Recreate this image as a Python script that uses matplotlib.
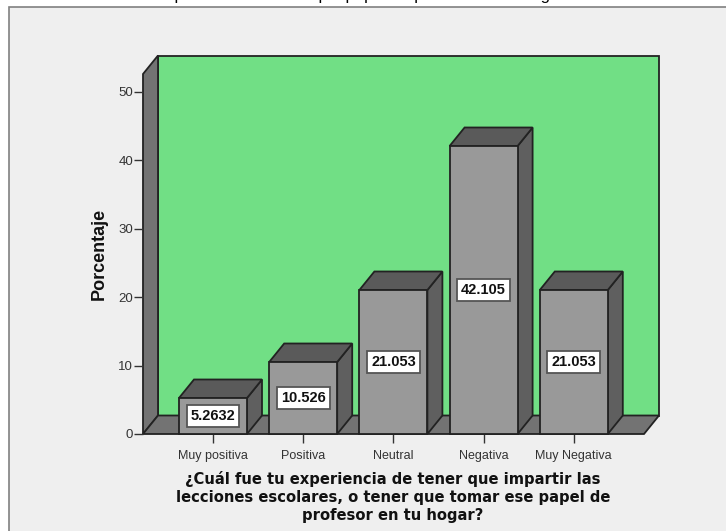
import numpy as np
import matplotlib
matplotlib.use('Agg')
import matplotlib.pyplot as plt
from matplotlib.patches import Polygon, Rectangle

categories = ['Muy positiva', 'Positiva', 'Neutral', 'Negativa', 'Muy Negativa']
values = [5.2632, 10.526, 21.053, 42.105, 21.053]
labels = ['5.2632', '10.526', '21.053', '42.105', '21.053']
yticks = [0, 10, 20, 30, 40, 50]

W, H = 726, 531
plt.rcParams['font.family'] = ['Liberation Sans', 'DejaVu Sans']

fig = plt.figure(figsize=(W / 100, H / 100), dpi=100, facecolor='white')

# page panel behind the chart
bg = fig.add_axes([0, 0, 1, 1])
bg.set_xlim(0, W)
bg.set_ylim(H, 0)
bg.axis('off')
bg.add_patch(Rectangle((9, 6.5), W, H, fc='#efefef', ec='#808080', lw=1.2))
# heading is cut by the top of the picture, only the descenders show
bg.text(360, 0, 'Experiencia de tener que papel de profesor en tu hogar', fontsize=12, ha='center',
        va='baseline', color='black')

# front plane of the axes, in pixels: x 143-644, y 434-74
left, right, bottom, top = 143, 644, 434, 74
ax = fig.add_axes([left / W, 1 - bottom / H, (right - left) / W, (bottom - top) / H])
ax.patch.set_alpha(0)
px_x = 90.2
px_y = 6.84
ax.set_xlim(-(213 - left) / px_x, (right - 213) / px_x)
ax.set_ylim(0, (bottom - top) / px_y)
for s in ['top', 'right', 'bottom', 'left']:
    ax.spines[s].set_visible(False)

x0, x1 = ax.get_xlim()
y0, y1 = ax.get_ylim()
dx = 15 / px_x
dy = 18.5 / px_y
bw = 68 / px_x
edge = '#222222'


def poly(pts, fc, z, lw=1.3):
    ax.add_patch(Polygon(pts, closed=True, fc=fc, ec=edge, lw=lw, zorder=z, clip_on=False,
                         joinstyle='miter'))


# back wall, side wall, floor
poly([(x0 + dx, y0 + dy), (x1 + dx, y0 + dy), (x1 + dx, y1 + dy), (x0 + dx, y1 + dy)], '#71df85', 1)
poly([(x0, y0), (x0 + dx, y0 + dy), (x0 + dx, y1 + dy), (x0, y1)], '#737373', 1)
poly([(x0, y0), (x1, y0), (x1 + dx, y0 + dy), (x0 + dx, y0 + dy)], '#737373', 1)

# bars
for i, v in enumerate(values):
    l, r = i - bw / 2, i + bw / 2
    poly([(r, 0), (r + dx, dy), (r + dx, v + dy), (r, v)], '#5f5f5f', 3 + i)
    poly([(l, v), (r, v), (r + dx, v + dy), (l + dx, v + dy)], '#5a5a5a', 3 + i)
    poly([(l, 0), (r, 0), (r, v), (l, v)], '#999999', 3 + i)
    ax.text(i, v / 2, labels[i], ha='center', va='center', fontsize=10.5, fontweight='bold',
            color='#111111', zorder=20,
            bbox=dict(boxstyle='square,pad=0.28', fc='white', ec='#555555', lw=1.3))

ax.set_xticks(range(len(categories)))
ax.set_xticklabels(categories, fontsize=9, color='#333333')
ax.set_yticks(yticks)
ax.set_yticklabels(yticks, fontsize=9.5, color='#333333')
ax.tick_params(axis='x', length=6.3, width=1, color='#333333', pad=5)
ax.tick_params(axis='y', length=6.5, width=1, color='#333333', pad=0.5)

ax.set_ylabel('Porcentaje', fontsize=13, fontweight='bold', color='#111111')
ax.yaxis.set_label_coords((108 - left) / (right - left), (bottom - 254) / (bottom - top))

bg.text(393, 497, '¿Cuál fue tu experiencia de tener que impartir las\n'
                  'lecciones escolares, o tener que tomar ese papel de\n'
                  'profesor en tu hogar?',
        fontsize=10.6, fontweight='bold', ha='center', va='center', linespacing=1.23,
        family=['DejaVu Sans'], color='#111111')

fig.savefig('out.png', dpi=100)
